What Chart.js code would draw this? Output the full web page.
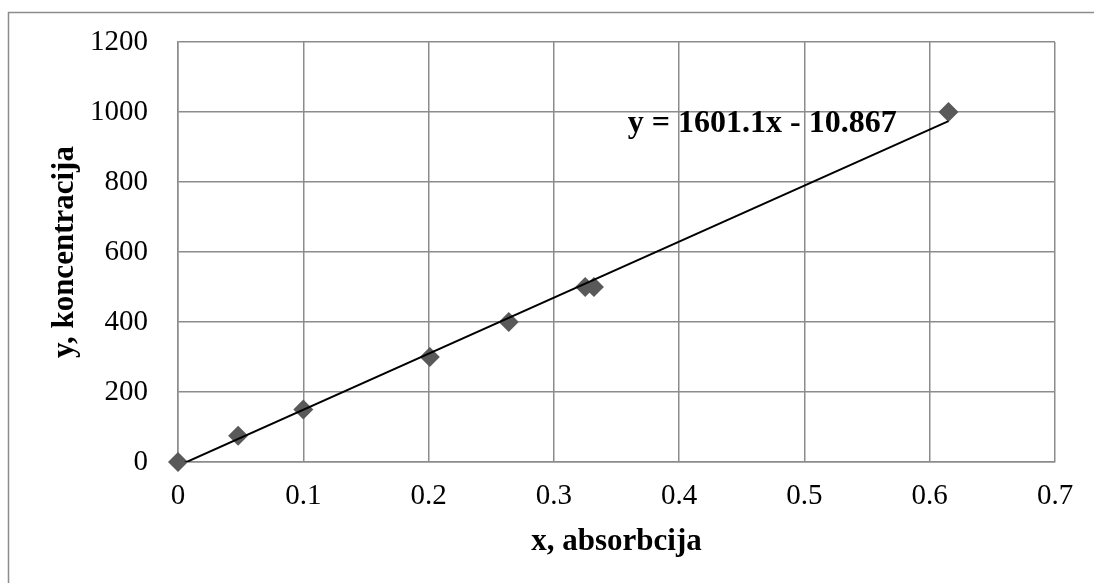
<!DOCTYPE html>
<html>
<head>
<meta charset="utf-8">
<script src="https://cdn.jsdelivr.net/npm/chart.js@4"></script>
<style>
  html, body { margin: 0; padding: 0; background: #fff; }
  #wrap { width: 1094px; height: 583px; }
</style>
</head>
<body>
<div id="wrap"><canvas id="chartCanvas" width="1094" height="583"></canvas></div>
<script>
// measured points (absorbance vs concentration)
const absorbcija = [0, 0.048, 0.1, 0.201, 0.264, 0.325, 0.332, 0.615];
const koncentracija = [0, 75, 150, 300, 400, 500, 500, 1000];

// linear trendline endpoints
const trendX = [0, 0.615];
const trendY = [-10.9, 973.8];
const trendLabel = "y = 1601.1x - 10.867";

const xTicks = [0, 0.1, 0.2, 0.3, 0.4, 0.5, 0.6, 0.7];
const yTicks = [0, 200, 400, 600, 800, 1000, 1200];

const serif = "'Liberation Serif', 'Times New Roman', serif";

const framePlugin = {
    id: "frame",
    beforeDraw(chart) {
        const ctx = chart.ctx;
        ctx.save();
        ctx.strokeStyle = "#8c8c8c";
        ctx.lineWidth = 1.5;
        ctx.beginPath();
        ctx.moveTo(8.5, chart.height);
        ctx.lineTo(8.5, 12.5);
        ctx.lineTo(chart.width, 12.5);
        ctx.stroke();
        ctx.restore();
    }
};

const equationPlugin = {
    id: "equation",
    afterDatasetsDraw(chart) {
        const ctx = chart.ctx;
        const xs = chart.scales.x, ys = chart.scales.y;
        ctx.save();
        ctx.font = "bold 32px " + serif;
        ctx.fillStyle = "#000";
        ctx.textBaseline = "middle";
        ctx.textAlign = "left";
        ctx.fillText(trendLabel, xs.getPixelForValue(0.359), ys.getPixelForValue(966));
        ctx.restore();
    }
};

new Chart(document.getElementById("chartCanvas"), {
    type: "scatter",
    data: {
        datasets: [{
            label: "koncentracija",
            data: absorbcija.map((x, i) => ({ x: x, y: koncentracija[i] })),
            pointStyle: "rectRot",
            pointRadius: 10,
            pointHoverRadius: 10,
            backgroundColor: "#595959",
            borderColor: "#595959",
            borderWidth: 0,
            showLine: false,
            clip: false,
            order: 2
        }, {
            label: "trend",
            data: trendX.map((x, i) => ({ x: x, y: trendY[i] })),
            showLine: true,
            borderColor: "#000",
            borderWidth: 2,
            pointRadius: 0,
            fill: false,
            order: 1
        }]
    },
    options: {
        responsive: false,
        animation: false,
        layout: { padding: { left: 46, right: 39, top: 42, bottom: 22 } },
        plugins: {
            legend: { display: false },
            tooltip: { enabled: false }
        },
        scales: {
            x: {
                type: "linear",
                min: 0,
                max: 0.7,
                afterBuildTicks(scale) { scale.ticks = xTicks.map(v => ({ value: v })); },
                afterFit(scale) {
                    scale.height = 99;
                    scale.paddingLeft = 0;
                    scale.paddingRight = 0;
                },
                grid: { color: "#8c8c8c", lineWidth: 1.5, drawTicks: false },
                border: { color: "#8c8c8c", width: 1.5 },
                ticks: {
                    padding: 17,
                    color: "#000",
                    font: { family: serif, size: 29 },
                    callback: v => String(v)
                },
                title: {
                    display: true,
                    text: "x, absorbcija",
                    color: "#000",
                    font: { family: serif, size: 31, weight: "bold" },
                    padding: { top: 0, bottom: 0 }
                }
            },
            y: {
                type: "linear",
                min: 0,
                max: 1200,
                afterBuildTicks(scale) { scale.ticks = yTicks.map(v => ({ value: v })); },
                afterFit(scale) {
                    scale.width = 132;
                    scale.paddingTop = 0;
                    scale.paddingBottom = 0;
                },
                grid: { color: "#8c8c8c", lineWidth: 1.5, drawTicks: false },
                border: { color: "#8c8c8c", width: 1.5 },
                ticks: {
                    padding: 30,
                    color: "#000",
                    font: { family: serif, size: 29 },
                    callback: v => String(v)
                },
                title: {
                    display: true,
                    text: "y, koncentracija",
                    color: "#000",
                    font: { family: serif, size: 31, weight: "bold" },
                    padding: { top: 0, bottom: 0 }
                }
            }
        }
    },
    plugins: [framePlugin, equationPlugin]
});
</script>
</body>
</html>
